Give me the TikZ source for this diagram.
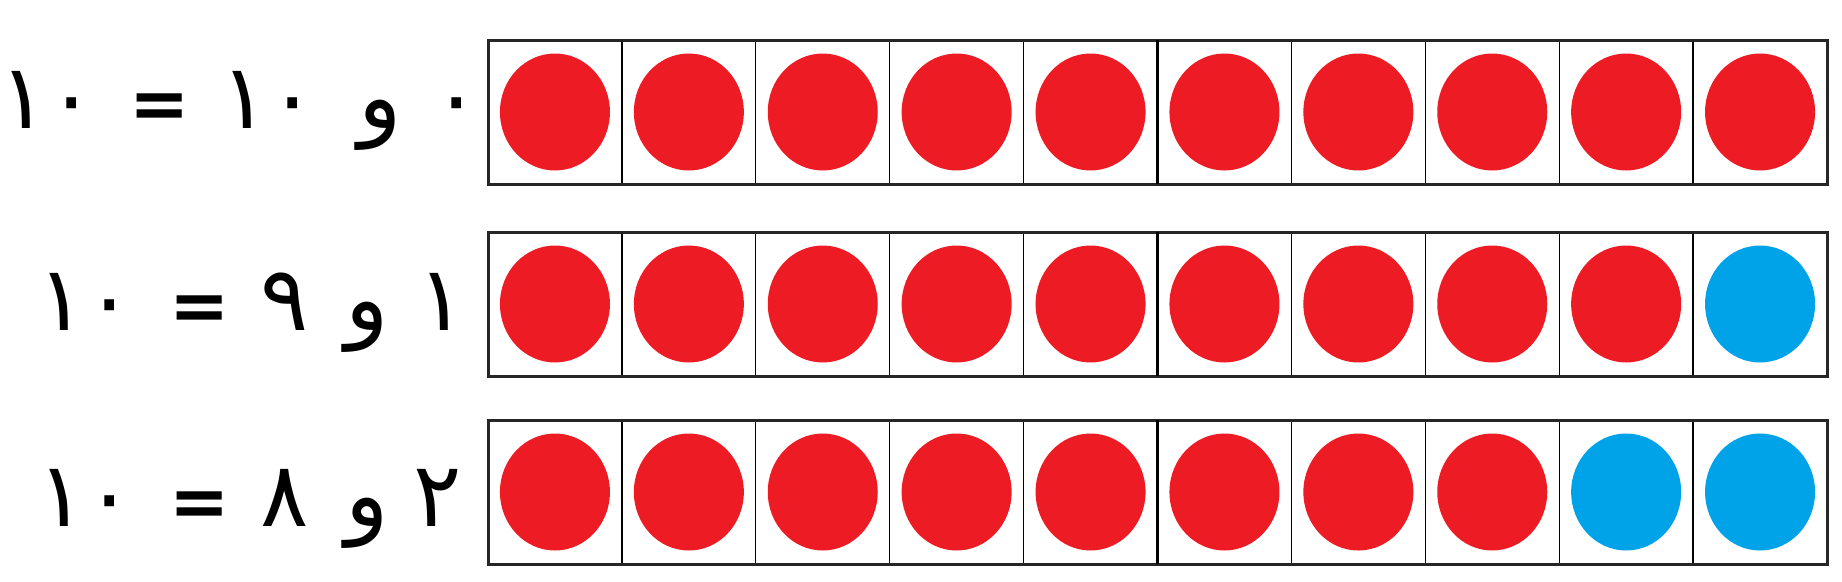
\documentclass[tikz,border=0pt]{standalone}
\usepackage{fontspec}
\TeXXeTstate=1
\newfontfamily\arabicfont[Script=Arabic]{DejaVu Sans}
\definecolor{dotred}{HTML}{ED1C24}
\definecolor{dotblue}{HTML}{00A2E8}
\tikzset{
  cellbox/.style={draw=black, line width=1.3pt, minimum width=133.9pt, minimum height=144pt, inner sep=0pt, outer sep=0pt},
  outerline/.style={draw=black!85, line width=3pt},
  midline/.style={draw=black, line width=2.5pt},
  numtxt/.style={anchor=base, inner sep=0pt, font=\arabicfont\fontsize{90}{108}\selectfont},
  eqtxt/.style={anchor=base, inner sep=0pt, font=\arabicfont\bfseries\fontsize{72}{90}\selectfont},
}
\begin{document}
\begin{tikzpicture}[x=1pt,y=-1pt]
\useasboundingbox (0,0) rectangle (1842,581);
\foreach \r/\top/\nblue in {1/40/0, 2/232/1, 3/420/2} {
  \foreach \i in {1,...,10} {
    \pgfmathsetmacro\cx{488+(\i-0.5)*133.9}
    \pgfmathsetmacro\cy{\top+72}
    \pgfmathtruncatemacro\isblue{\i>(10-\nblue) ? 1 : 0}
    \ifnum\isblue=1 \def\dc{dotblue}\else\def\dc{dotred}\fi
    \node[cellbox] (c\r-\i) at (\cx,\cy) {};
    \fill[\dc] (c\r-\i.center) ellipse [x radius=55, y radius=58.5];
  }
  \draw[outerline] (c\r-1.north west) rectangle (c\r-10.south east);
  \draw[midline] (c\r-5.north east) -- (c\r-5.south east);
}
% row 1: ٠ و ١٠ = ١٠
\node[numtxt] (a1) at (48,128) {١٠};
\node[eqtxt] (a2) at (160,128) {=};
\node[numtxt] (a3) at (269,128) {١٠};
\node[numtxt] (a4) at (380,128) {و};
\node[numtxt] (a5) at (457,128) {٠};
% row 2: ١ و ٩ = ١٠
\node[numtxt] (b1) at (86,330) {١٠};
\node[eqtxt] (b2) at (200,330) {=};
\node[numtxt] (b3) at (285,330) {٩};
\node[numtxt] (b4) at (367,330) {و};
\node[numtxt] (b5) at (442,330) {١};
% row 3: ٢ و ٨ = ١٠
\node[numtxt] (d1) at (86,526) {١٠};
\node[eqtxt] (d2) at (200,526) {=};
\node[numtxt] (d3) at (285,526) {٨};
\node[numtxt] (d4) at (367,526) {و};
\node[numtxt] (d5) at (438,526) {٢};
\end{tikzpicture}
\end{document}
